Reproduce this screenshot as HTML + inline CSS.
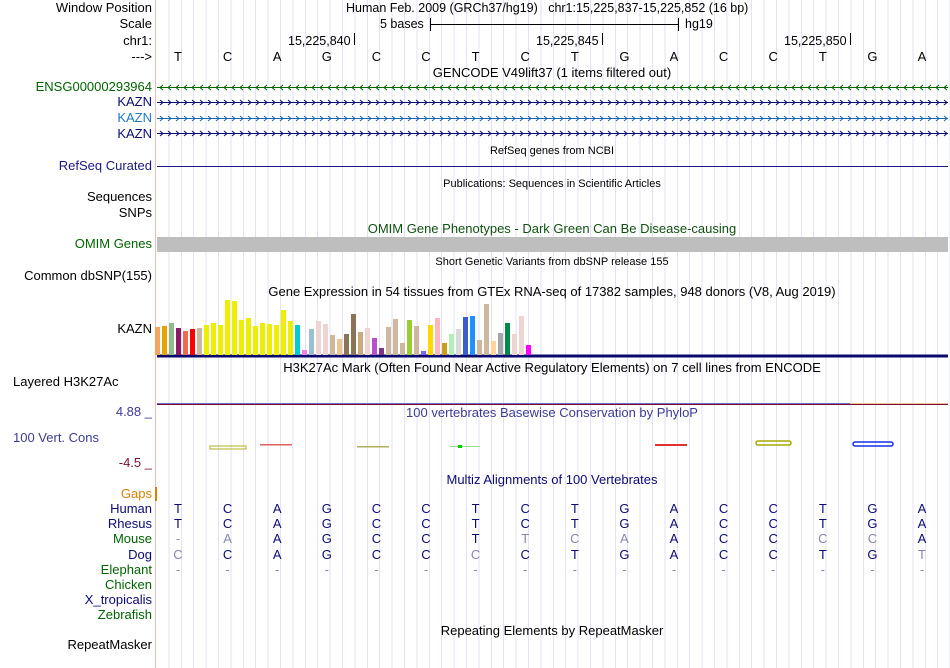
<!DOCTYPE html>
<html><head><meta charset="utf-8"><style>
body{margin:0;width:950px;height:668px;background:#fff;position:relative;overflow:hidden;font-family:"Liberation Sans",sans-serif;font-size:13px;color:#000}
.t{position:absolute;white-space:nowrap;line-height:14px}
.l{position:absolute;right:798px;text-align:right;white-space:nowrap;line-height:14px}
.c{position:absolute;transform:translateX(-50%);white-space:nowrap;line-height:14px}
.s{font-size:11px}
#grid{position:absolute;left:157px;top:0;width:793px;height:668px;background:repeating-linear-gradient(90deg,transparent 0 11.4px,#e2e2f4 11.4px 12.4px)}
</style></head><body>
<div id="grid"></div>
<div style="position:absolute;left:155px;top:0;width:1px;height:668px;background:#f4b8b8"></div>

<div class="l" style="top:1px">Window Position</div>
<div class="l" style="top:17px">Scale</div>
<div class="l" style="top:34px">chr1:</div>
<div class="l" style="top:50px">---&gt;</div>
<div class="t" style="left:346px;top:1px;font-size:12.5px">Human Feb. 2009 (GRCh37/hg19)&nbsp;&nbsp;&nbsp;chr1:15,225,837-15,225,852 (16 bp)</div>
<div class="t" style="left:380px;top:17px;font-size:12.5px">5 bases</div>
<div style="position:absolute;left:430px;top:24px;width:248px;height:1px;background:#000"></div>
<div style="position:absolute;left:430px;top:18px;width:1px;height:13px;background:#000"></div>
<div style="position:absolute;left:678px;top:18px;width:1px;height:13px;background:#000"></div>
<div class="t" style="left:685px;top:17px;font-size:12.5px">hg19</div>
<div class="t" style="left:288px;top:34px;font-size:12.5px">15,225,840</div><div style="position:absolute;left:354px;top:33px;width:1px;height:12px;background:#000"></div>
<div class="t" style="left:536px;top:34px;font-size:12.5px">15,225,845</div><div style="position:absolute;left:602px;top:33px;width:1px;height:12px;background:#000"></div>
<div class="t" style="left:784px;top:34px;font-size:12.5px">15,225,850</div><div style="position:absolute;left:850px;top:33px;width:1px;height:12px;background:#000"></div>
<div id="bases"></div>
<div class="c" style="left:552px;top:66px">GENCODE V49lift37 (1 items filtered out)</div>
<div class="l" style="top:80px;color:#006400">ENSG00000293964</div>
<div class="l" style="top:95px;color:#0a0a78">KAZN</div>
<div class="l" style="top:111px;color:#1e78c8">KAZN</div>
<div class="l" style="top:127px;color:#0a0a78">KAZN</div>
<svg style="position:absolute;left:0;top:0" width="950" height="668">
<g id="genes"></g>
<line x1="157" y1="166.5" x2="948" y2="166.5" stroke="#1a1a80"/>
<rect x="157" y="237" width="791" height="15" fill="#bebebe"/>
<line x1="157" y1="356" x2="948" y2="356" stroke="#0a0a6e" stroke-width="3"/>
<line x1="157" y1="403.5" x2="850" y2="403.5" stroke="#6b6bc8"/>
<line x1="850" y1="403.5" x2="948" y2="403.5" stroke="#f0c090"/>
<line x1="157" y1="404.5" x2="948" y2="404.5" stroke="#7a1030"/>
<g id="gtex"></g>
<g>
<rect x="210" y="446" width="36" height="3" fill="none" stroke="#b0b020" stroke-width="1"/>
<rect x="260" y="444" width="32" height="1.5" fill="#e06060"/>
<rect x="357" y="446" width="32" height="1.5" fill="#b0b060"/>
<rect x="450" y="446" width="30" height="1" fill="#90e090"/>
<rect x="458" y="445" width="4" height="3" fill="#00d000"/>
<rect x="655" y="444" width="32" height="2" fill="#e03030"/>
<rect x="756" y="441" width="35" height="4" rx="2" fill="none" stroke="#a8a800" stroke-width="1.5"/>
<rect x="853" y="442" width="40" height="4" rx="2" fill="none" stroke="#1830e0" stroke-width="1.5"/>
</g>
<rect x="155" y="487" width="2" height="14" fill="#e08000"/>
</svg>
<div class="c s" style="left:552px;top:144px">RefSeq genes from NCBI</div>
<div class="l" style="top:159px;color:#1a1a80">RefSeq Curated</div>
<div class="c s" style="left:552px;top:177px">Publications: Sequences in Scientific Articles</div>
<div class="l" style="top:190px">Sequences</div>
<div class="l" style="top:206px">SNPs</div>
<div class="c" style="left:552px;top:222px;color:#105010">OMIM Gene Phenotypes - Dark Green Can Be Disease-causing</div>
<div class="l" style="top:237px;color:#006400">OMIM Genes</div>
<div class="c s" style="left:552px;top:255px">Short Genetic Variants from dbSNP release 155</div>
<div class="l" style="top:269px">Common dbSNP(155)</div>
<div class="c" style="left:552px;top:285px">Gene Expression in 54 tissues from GTEx RNA-seq of 17382 samples, 948 donors (V8, Aug 2019)</div>
<div class="l" style="top:322px">KAZN</div>
<div class="c" style="left:552px;top:361px">H3K27Ac Mark (Often Found Near Active Regulatory Elements) on 7 cell lines from ENCODE</div>
<div class="t" style="top:375px;left:13px">Layered H3K27Ac</div>
<div class="l" style="top:405px;color:#3c3c96">4.88 _</div>
<div class="c" style="left:552px;top:406px;color:#3c3c96">100 vertebrates Basewise Conservation by PhyloP</div>
<div class="t" style="top:431px;left:13px;color:#3c3c96">100 Vert. Cons</div>
<div class="l" style="top:456px;color:#7a1030">-4.5 _</div>
<div class="c" style="left:552px;top:473px;color:#0a0a78">Multiz Alignments of 100 Vertebrates</div>
<div class="l" style="top:487px;color:#e08000">Gaps</div>
<div id="mz"></div>
<div class="c" style="left:552px;top:624px">Repeating Elements by RepeatMasker</div>
<div class="l" style="top:638px">RepeatMasker</div>
<script>
const tissueNames=Array.from({length:54},(_,i)=>'t'+(i+1));
const expressionValues=[28,29,32,27,24,26,27,30,32,30,55,54,35,37,29,32,31,30,45,34,30,5,26,34,31,20,16,21,41,23,27,17,7,28,36,12,35,29,4,30,37,12,21,26,38,39,15,51,14,22,32,21,39,10];
const tissueColors=['#f4a460','#eea000','#8fbc8f','#8b1c62','#ee6a50','#ff0000','#cdb79e','#eeee00','#eeee00','#eeee00','#eeee00','#eeee00','#eeee00','#eeee00','#eeee00','#eeee00','#eeee00','#eeee00','#eeee00','#eeee00','#00cdcd','#ee82ee','#9ac0cd','#eed5d2','#eed5d2','#cdb79e','#eec591','#8b7355','#8b7355','#cdaa7d','#eed5d2','#b452cd','#7a378b','#cdb79e','#cdb79e','#cdb79e','#9acd32','#cdb79e','#7b68ee','#ffd700','#ffb6c1','#cd9b1d','#b4eeb4','#d9d9d9','#3a5fcd','#1e90ff','#cdb79e','#cdb79e','#ffd39b','#a6a6a6','#008b45','#eed5d2','#eed5d2','#ff00ff'];
const bases=['T','C','A','G','C','C','T','C','T','G','A','C','C','T','G','A'];
const species=['Human','Rhesus','Mouse','Dog','Elephant','Chicken','X_tropicalis','Zebrafish'];
const speciesColors=['#0a0a78','#0a0a78','#006400','#0a0a78','#006400','#006400','#0a0a78','#006400'];
const alignRows=['TCAGCCTCTGACCTGA','TCAGCCTCTGACCTGA','-AAGCCTTCAACCCCA','CCAGCCCCTGACCTGT','----------------','','',''];
const geneNames=['ensg','kazn-1','kazn-2','kazn-3'];
const geneStrands=[-1,1,1,1];
const geneColors=['#006400','#0a0a78','#1e64b4','#0a0a78'];
const x=i=>178+i*49.6;
const yScale=v=>355-v;
const ns='http://www.w3.org/2000/svg';
const gg=document.getElementById('genes');
geneNames.forEach((n,k)=>{
 const y=[87.5,102.5,118.5,133.5][k];
 let d='M157 '+y+' H948';
 for(let px=161;px<946;px+=8){
  if(geneStrands[k]<0) d+=' M'+(px+2)+' '+(y-2.5)+' L'+(px-1)+' '+y+' L'+(px+2)+' '+(y+2.5);
  else d+=' M'+(px-1)+' '+(y-2.5)+' L'+(px+2)+' '+y+' L'+(px-1)+' '+(y+2.5);
 }
 const p=document.createElementNS(ns,'path');
 
 
 p.setAttribute('d',d);p.setAttribute('stroke',geneColors[k]);p.setAttribute('fill','none');p.setAttribute('stroke-width','1');
 gg.appendChild(p);
});
const g=document.getElementById('gtex');
expressionValues.forEach((v,i)=>{
 const r=document.createElementNS(ns,'rect');
 
 
 r.setAttribute('x',155+i*7);r.setAttribute('y',yScale(v));
 r.setAttribute('width',5);r.setAttribute('height',355-yScale(v));
 r.setAttribute('fill',tissueColors[i]);g.appendChild(r);
});
const bd=document.getElementById('bases');
bases.forEach((b,i)=>{const d=document.createElement('div');d.className='c';d.style.left=x(i)+'px';d.style.top='50px';d.textContent=b;


bd.appendChild(d);});
const mz=document.getElementById('mz');
species.forEach((s,r)=>{const top=502+r*15.2;
 const l=document.createElement('div');l.className='l';l.style.top=top+'px';l.style.color=speciesColors[r];l.textContent=s;
 
 
 mz.appendChild(l);
 const row=alignRows[r];
 for(let i=0;i<row.length;i++){const d=document.createElement('div');d.className='c';d.style.left=x(i)+'px';d.style.top=top+'px';d.textContent=row[i];
  d.style.color=(r>=2&&row[i]!==bases[i])?'#8888b0':'#0a0a78';
  
  
  mz.appendChild(d);}
});
</script>
</body></html>
